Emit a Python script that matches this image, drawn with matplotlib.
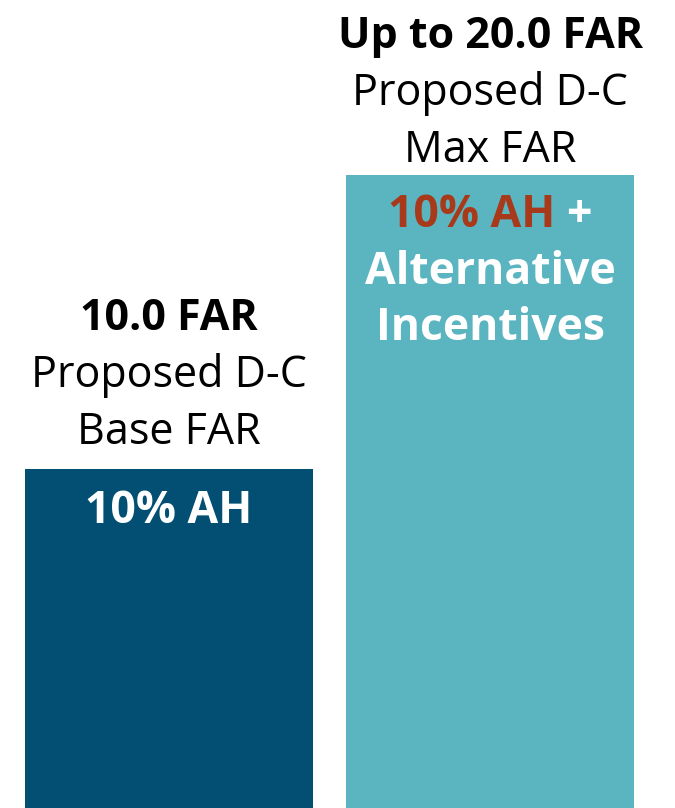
import matplotlib
matplotlib.use("Agg")
import matplotlib.pyplot as plt

plt.rcParams['font.family'] = ['Open Sans', 'DejaVu Sans']

# data
far = [10.0, 20.0]
headlines = ["10.0 FAR", "Up to 20.0 FAR"]
sublines = [["Proposed D-C", "Base FAR"], ["Proposed D-C", "Max FAR"]]
colors = ["#034f73", "#5ab5c0"]
base = -1.55  # bars run off the bottom of the picture

fig = plt.figure(figsize=(6.75, 8.08), dpi=100)
ax = fig.add_axes([0, 0, 1, 1])
x = [0, 1]
ax.bar(x, [f - base for f in far], bottom=base, width=0.897, color=colors)
ax.set_xlim(-0.5265, 1.576)
ax.set_ylim(base, 25.95)
ax.axis('off')

fs = 31
fs_in = 32
gaps = [36, 24]  # px from bar top to centre of last label line
step = 57
for i in range(2):
    lines = [headlines[i]] + sublines[i]
    for j, txt in enumerate(lines):
        off = gaps[i] + step * (len(lines) - 1 - j)
        ax.annotate(txt, xy=(x[i], far[i]), xytext=(0, off), textcoords='offset pixels',
                    ha='center', va='center', fontsize=fs,
                    fontweight='bold' if j == 0 else 'normal')

# text inside the bars
ax.annotate("10% AH", xy=(x[0], far[0]), xytext=(0, -43), textcoords='offset pixels',
            ha='center', va='center', fontsize=fs_in, fontweight='bold', color='white')

fig.canvas.draw()
r = fig.canvas.get_renderer()
t1 = ax.annotate("10% AH", xy=(x[1], far[1]), xytext=(0, -41), textcoords='offset pixels',
                 ha='left', va='center', fontsize=fs_in, fontweight='bold', color='#a8391a')
t2 = ax.annotate("+", xy=(x[1], far[1]), xytext=(0, -41), textcoords='offset pixels',
                 ha='left', va='center', fontsize=fs_in, fontweight='bold', color='white')
w1 = t1.get_window_extent(r).width
w2 = t2.get_window_extent(r).width
sp = 11
total = w1 + sp + w2
t1.set_position((-total / 2, -41))
t2.set_position((-total / 2 + w1 + sp, -41))
for k, txt in enumerate(["Alternative", "Incentives"]):
    ax.annotate(txt, xy=(x[1], far[1]), xytext=(0, -98 - 56 * k), textcoords='offset pixels',
                ha='center', va='center', fontsize=fs_in, fontweight='bold', color='white')

fig.savefig("out.png", dpi=100)
